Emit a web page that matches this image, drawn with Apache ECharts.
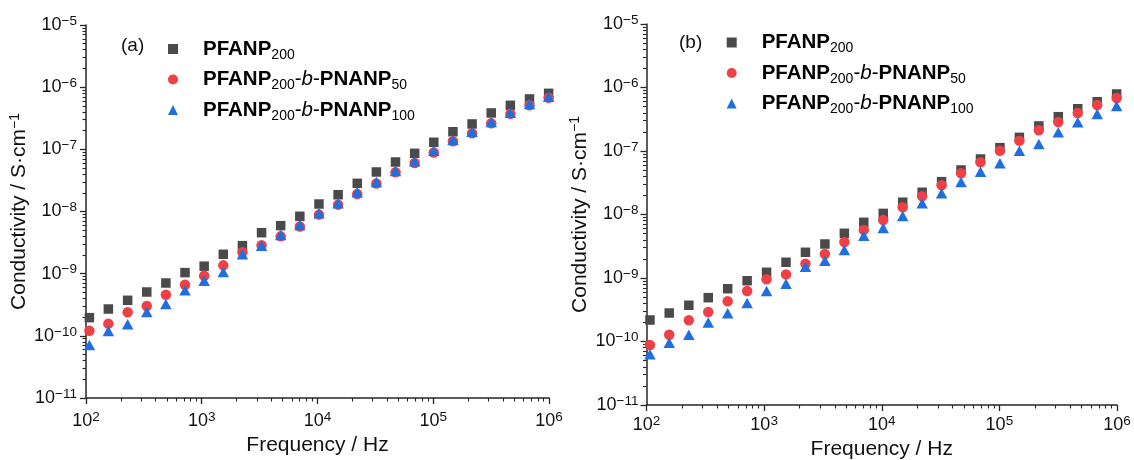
<!DOCTYPE html>
<html><head><meta charset="utf-8">
<script src="https://cdn.jsdelivr.net/npm/echarts@6/dist/echarts.min.js"></script>
<style>html,body{margin:0;padding:0;background:#fff}#c{width:1134px;height:460px}</style>
</head><body><div id="c"></div>
<script>
// ---- data ----
const frequency = [107,156,229,335,490,717,1049,1535,2246,3286,4809,7037,10297,15068,22049,32266,47216,69092,101111,147960,216520,316850,463660,678500,992900];
const seriesNames = ['PFANP200','PFANP200-b-PNANP50','PFANP200-b-PNANP100'];
// panel (a)
const a_PFANP200 = [1.96e-10,2.70e-10,3.73e-10,5.07e-10,7.08e-10,1.04e-9,1.32e-9,2.05e-9,2.82e-9,4.56e-9,5.92e-9,8.38e-9,1.32e-8,1.86e-8,2.84e-8,4.32e-8,6.25e-8,8.63e-8,1.30e-7,1.92e-7,2.56e-7,3.85e-7,5.11e-7,6.46e-7,7.96e-7];
const a_PNANP50 = [1.21e-10,1.57e-10,2.39e-10,3.02e-10,4.59e-10,6.65e-10,9.27e-10,1.36e-9,2.21e-9,2.86e-9,3.98e-9,5.75e-9,8.91e-9,1.29e-8,1.91e-8,2.82e-8,4.27e-8,6.03e-8,8.91e-8,1.35e-7,1.82e-7,2.63e-7,3.72e-7,5.13e-7,6.76e-7];
const a_PNANP100 = [7.13e-11,1.20e-10,1.53e-10,2.42e-10,3.25e-10,5.41e-10,7.71e-10,1.06e-9,2.05e-9,2.82e-9,4.19e-9,6.07e-9,9.35e-9,1.36e-8,2.04e-8,2.99e-8,4.49e-8,6.43e-8,9.51e-8,1.41e-7,1.92e-7,2.75e-7,3.88e-7,5.36e-7,7.03e-7];
// panel (b)
const b_PFANP200 = [2.18e-10,2.81e-10,3.72e-10,4.90e-10,6.78e-10,9.06e-10,1.23e-9,1.77e-9,2.54e-9,3.43e-9,5.06e-9,7.53e-9,1.04e-8,1.56e-8,2.24e-8,3.29e-8,5.02e-8,7.48e-8,1.13e-7,1.64e-7,2.48e-7,3.47e-7,4.63e-7,5.97e-7,7.91e-7];
const b_PNANP50 = [8.81e-11,1.28e-10,2.16e-10,2.92e-10,4.30e-10,6.24e-10,9.55e-10,1.14e-9,1.68e-9,2.39e-9,3.69e-9,5.70e-9,8.18e-9,1.30e-8,1.94e-8,2.88e-8,4.46e-8,6.64e-8,1.01e-7,1.45e-7,2.12e-7,2.86e-7,3.96e-7,5.30e-7,6.84e-7];
const b_PNANP100 = [6.28e-11,9.57e-11,1.28e-10,2.00e-10,2.78e-10,4.04e-10,6.24e-10,8.13e-10,1.51e-9,1.87e-9,2.76e-9,4.63e-9,6.12e-9,9.46e-9,1.50e-8,2.16e-8,3.25e-8,4.72e-8,6.40e-8,1.01e-7,1.29e-7,1.97e-7,2.83e-7,3.83e-7,5.12e-7];
// axis ranges (decades)
const xRange = [1e2, 1e6];
const yRange = [1e-11, 1e-5];

// ---- build ----
const FONT = '"Liberation Sans", Arial, sans-serif';
const TXT = '#111';
const AX = '#262626';
const colors = ['#4a4a4a', '#ef4046', '#1f6fdf'];
const symbols = ['rect', 'circle', 'triangle'];
const sizes = [9.5, 10.5, [11.5, 10.5]];

function powLabel(v) {
  const e = Math.round(Math.log10(v));
  return '{b|10}{s|' + (e < 0 ? '\u2212' + (-e) : e) + '}';
}
const powRich = {
  b: { fontSize: 18, lineHeight: 22, fontFamily: FONT, color: TXT },
  s: { fontSize: 13.5, lineHeight: 14, verticalAlign: 'top', fontFamily: FONT, color: TXT }
};

const legendText = {
  'PFANP200': '{B|PFANP}{sub|200}',
  'PFANP200-b-PNANP50': '{B|PFANP}{sub|200}{n|-}{i|b}{n|-}{B|PNANP}{sub|50}',
  'PFANP200-b-PNANP100': '{B|PFANP}{sub|200}{n|-}{i|b}{n|-}{B|PNANP}{sub|100}'
};
const legendRich = {
  B: { fontSize: 20.5, fontWeight: 'bold', lineHeight: 26, fontFamily: FONT, color: '#000' },
  n: { fontSize: 20.5, lineHeight: 26, fontFamily: FONT, color: '#000' },
  i: { fontSize: 20.5, fontStyle: 'italic', lineHeight: 26, fontFamily: FONT, color: '#000' },
  sub: { fontSize: 14, lineHeight: 14, verticalAlign: 'bottom', fontFamily: FONT, color: '#000' }
};

const panels = [
  { grid: { left: 86, top: 25, width: 463, height: 373 }, xLabelMargin: 12, yLabelMargin: 9, xNameGap: 36,
    data: [a_PFANP200, a_PNANP50, a_PNANP100], tag: '(a)', tagPos: [121, 36], legendPos: [168, 38.5] },
  { grid: { left: 646.5, top: 24, width: 470.5, height: 381 }, xLabelMargin: 9, yLabelMargin: 8, xNameGap: 32,
    data: [b_PFANP200, b_PNANP50, b_PNANP100], tag: '(b)', tagPos: [679, 33], legendPos: [726.7, 32] }
];

const option = { animation: false, backgroundColor: '#fff', grid: [], xAxis: [], yAxis: [], series: [], legend: [], title: [] };

panels.forEach((p, gi) => {
  option.grid.push(Object.assign({ containLabel: false, outerBoundsMode: 'none' }, p.grid));
  option.xAxis.push({
    type: 'log', gridIndex: gi, min: xRange[0], max: xRange[1], logBase: 10, position: 'bottom',
    name: 'Frequency / Hz', nameLocation: 'middle', nameGap: p.xNameGap,
    nameTextStyle: { fontSize: 21, fontFamily: FONT, color: TXT },
    axisLine: { show: true, onZero: false, lineStyle: { color: AX, width: 1.5 } },
    axisTick: { show: true, length: 6, lineStyle: { color: AX, width: 1.3 } },
    minorTick: { show: true, splitNumber: 9, length: 3.5, lineStyle: { color: AX, width: 1.1 } },
    axisLabel: { formatter: powLabel, rich: powRich, margin: p.xLabelMargin },
    splitLine: { show: false }, minorSplitLine: { show: false }
  });
  option.yAxis.push({
    type: 'log', gridIndex: gi, min: yRange[0], max: yRange[1], logBase: 10, position: 'left',
    name: '{t|Conductivity / S·cm}{s|\u22121}', nameLocation: 'middle', nameGap: 54,
    nameTextStyle: { rich: {
      t: { fontSize: 21, lineHeight: 24, fontFamily: FONT, color: TXT },
      s: { fontSize: 14, lineHeight: 14, verticalAlign: 'top', fontFamily: FONT, color: TXT } } },
    axisLine: { show: true, onZero: false, lineStyle: { color: AX, width: 1.5 } },
    axisTick: { show: true, length: 6, lineStyle: { color: AX, width: 1.3 } },
    minorTick: { show: true, splitNumber: 9, length: 3.5, lineStyle: { color: AX, width: 1.1 } },
    axisLabel: { formatter: powLabel, rich: powRich, margin: p.yLabelMargin },
    splitLine: { show: false }, minorSplitLine: { show: false }
  });
  p.data.forEach((arr, si) => {
    option.series.push({
      type: 'scatter', name: seriesNames[si], xAxisIndex: gi, yAxisIndex: gi,
      symbol: symbols[si], symbolSize: sizes[si], z: 2 + si,
      itemStyle: { color: colors[si], opacity: 1 },
      data: frequency.map((f, i) => [f, arr[i]])
    });
  });
  option.legend.push({
    orient: 'vertical', left: p.legendPos[0], top: p.legendPos[1], padding: 0,
    itemWidth: 10, itemHeight: 10, itemGap: 7, selectedMode: false,
    data: seriesNames.map((n, i) => ({ name: n, icon: symbols[i] })),
    formatter: n => legendText[n],
    textStyle: { padding: [0, 0, 0, 20], rich: legendRich }
  });
  option.title.push({
    text: p.tag, left: p.tagPos[0], top: p.tagPos[1], padding: 0,
    textStyle: { fontSize: 19, fontWeight: 'normal', fontFamily: FONT, color: TXT }
  });
});

const chart = echarts.init(document.getElementById('c'), null, { renderer: 'canvas' });
chart.setOption(option);
</script>
</body></html>
